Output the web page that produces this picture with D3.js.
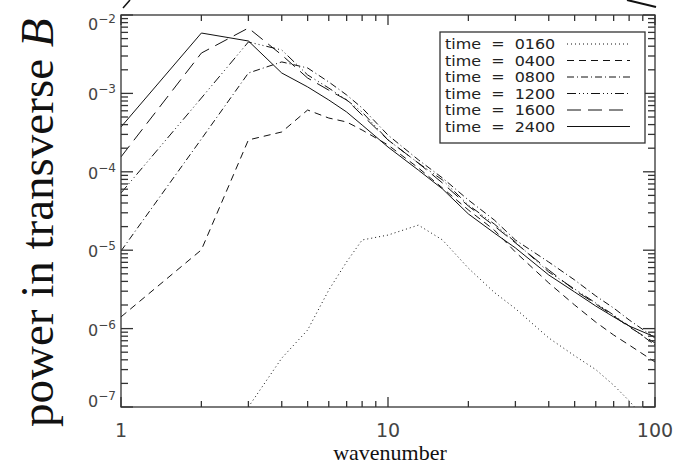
<!DOCTYPE html>
<html lang="en">
<head>
    <meta charset="utf-8" />
    <title>power spectrum</title>
    <script src="https://d3js.org/d3.v7.min.js"></script>
    <style>
        body { margin: 0; background: #fff; }
        svg { display: block; }
    </style>
</head>
<body>
    <svg></svg>
    <script>
        let width = 683, height = 465;

        const waveK = [1, 2, 3, 4, 5, 6, 7, 8, 10, 13, 16, 20, 25, 30, 40, 50, 60, 70, 80, 100];
        const p0160 = [null, null, 1.0e-7, 4.2e-7, 9.6e-7, 3.1e-6, 7.1e-6, 1.35e-5, 1.56e-5, 2.09e-5, 1.35e-5, 5.9e-6, 2.9e-6, 1.8e-6, 7.6e-7, 4.5e-7, 3.0e-7, 1.9e-7, 1.2e-7, 5.0e-8];
        const p0400 = [1.41e-6, 1.01e-5, 2.55e-4, 3.22e-4, 6.14e-4, 4.85e-4, 4.32e-4, 3.41e-4, 2.20e-4, 1.12e-4, 6.21e-5, 3.26e-5, 1.81e-5, 9.48e-6, 3.82e-6, 2.00e-6, 1.21e-6, 8.28e-7, 6.18e-7, 3.75e-7];
        const p0800 = [9.77e-6, 2.62e-4, 1.82e-3, 2.52e-3, 2.11e-3, 1.40e-3, 9.55e-4, 6.52e-4, 2.94e-4, 1.42e-4, 8.34e-5, 4.37e-5, 2.43e-5, 1.35e-5, 7.06e-6, 4.17e-6, 2.61e-6, 1.83e-6, 1.29e-6, 7.59e-7];
        const p1200 = [5.37e-5, 8.73e-4, 4.53e-3, 3.58e-3, 1.72e-3, 1.17e-3, 8.24e-4, 5.79e-4, 2.55e-4, 1.29e-4, 7.86e-5, 3.77e-5, 2.16e-5, 1.27e-5, 5.27e-6, 3.20e-6, 2.12e-6, 1.49e-6, 1.08e-6, 6.18e-7];
        const p1600 = [1.55e-4, 3.27e-3, 6.82e-3, 3.09e-3, 1.57e-3, 1.10e-3, 8.24e-4, 5.30e-4, 2.55e-4, 1.29e-4, 7.19e-5, 3.66e-5, 2.04e-5, 1.24e-5, 5.59e-6, 3.10e-6, 2.06e-6, 1.45e-6, 1.05e-6, 6.55e-7];
        const p2400 = [3.73e-4, 5.89e-3, 4.66e-3, 1.82e-3, 1.21e-3, 8.24e-4, 5.79e-4, 3.95e-4, 2.07e-4, 1.05e-4, 6.04e-5, 2.90e-5, 1.66e-5, 1.07e-5, 4.83e-6, 2.93e-6, 1.94e-6, 1.41e-6, 1.08e-6, 7.81e-7];

        const timeLabels = ["0160", "0400", "0800", "1200", "1600", "2400"];
        const dashes = ["1,3", "7,5", "7,3,1,3", "9,3,1,3,1,3,1,3", "14,7", null];
        const xTicks = [1, 10, 100];
        const yExps = [-2, -3, -4, -5, -6, -7];

        const series = [p0160, p0400, p0800, p1200, p1600, p2400];

        let svg = d3.select("svg")
            .attr("width", width)
            .attr("height", height)
            .attr("viewBox", "0 0 " + width + " " + height);

        let x = d3.scaleLog().domain([1, 100]).range([121, 655]);
        let y = d3.scaleLog().domain([1e-7, 1e-2]).range([407, 15]);

        svg.append("clipPath").attr("id", "plotclip")
            .append("rect")
            .attr("x", x(1)).attr("y", y(1e-2))
            .attr("width", x(100) - x(1)).attr("height", y(1e-7) - y(1e-2));

        // data curves
        let line = d3.line()
            .defined(d => d[1] != null)
            .x(d => x(d[0]))
            .y(d => y(d[1]));

        let curves = svg.append("g").attr("clip-path", "url(#plotclip)");
        series.forEach((vals, i) => {
            curves.append("path")
                .datum(waveK.map((k, j) => [k, vals[j]]))
                .attr("d", line)
                .attr("fill", "none")
                .attr("stroke", "#111")
                .attr("stroke-width", 1)
                .attr("stroke-dasharray", dashes[i]);
        });

        // axes box + ticks on all four sides
        let axisG = svg.append("g").attr("stroke", "#333").attr("stroke-width", 1.3);
        axisG.append("rect")
            .attr("x", x(1)).attr("y", y(1e-2))
            .attr("width", x(100) - x(1)).attr("height", y(1e-7) - y(1e-2))
            .attr("fill", "none");

        let xMinor = [];
        [1, 10].forEach(d => { for (let m = 2; m <= 9; m++) xMinor.push(d * m); });
        let yMinor = [];
        [1e-7, 1e-6, 1e-5, 1e-4, 1e-3].forEach(d => { for (let m = 2; m <= 9; m++) yMinor.push(d * m); });

        xTicks.concat(xMinor).forEach(k => {
            let len = xTicks.includes(k) ? 10 : 6;
            axisG.append("line").attr("x1", x(k)).attr("x2", x(k))
                .attr("y1", y(1e-7)).attr("y2", y(1e-7) - len);
            axisG.append("line").attr("x1", x(k)).attr("x2", x(k))
                .attr("y1", y(1e-2)).attr("y2", y(1e-2) + len);
        });
        yExps.map(e => Math.pow(10, e)).concat(yMinor).forEach(v => {
            let major = yExps.some(e => Math.abs(Math.log10(v) - e) < 1e-6);
            let len = major ? 12 : 7;
            axisG.append("line").attr("x1", x(1)).attr("x2", x(1) + len)
                .attr("y1", y(v)).attr("y2", y(v));
            axisG.append("line").attr("x1", x(100)).attr("x2", x(100) - len)
                .attr("y1", y(v)).attr("y2", y(v));
        });

        // tick labels
        svg.append("g").selectAll("text")
            .data(xTicks)
            .enter()
            .append("text")
            .attr("x", d => x(d))
            .attr("y", 437)
            .attr("text-anchor", "middle")
            .attr("font-family", "DejaVu Sans")
            .attr("font-size", 19)
            .attr("fill", "#444")
            .text(d => d);

        yExps.forEach(e => {
            let ty = Math.min(Math.max(y(Math.pow(10, e)) + 7, 30), 407);
            let t = svg.append("text")
                .attr("x", 116)
                .attr("y", ty)
                .attr("text-anchor", "end")
                .attr("font-family", "DejaVu Sans")
                .attr("fill", "#444");
            t.append("tspan").attr("font-size", 16).text("0");
            t.append("tspan").attr("font-size", 12).attr("dy", -7).text("\u2212" + (-e));
        });

        // axis titles
        svg.append("text")
            .attr("x", 390)
            .attr("y", 460)
            .attr("text-anchor", "middle")
            .attr("font-family", "Liberation Serif")
            .attr("font-size", 22)
            .attr("fill", "#111")
            .text("wavenumber");

        let ylab = svg.append("text")
            .attr("transform", "translate(53,427) rotate(-90)")
            .attr("font-family", "Liberation Serif")
            .attr("font-size", 47)
            .attr("fill", "#111");
        ylab.append("tspan").text("power in transverse ");
        ylab.append("tspan").attr("font-style", "italic").text("B");

        // legend
        let legend = svg.append("g");
        legend.append("rect")
            .attr("x", 440).attr("y", 32)
            .attr("width", 205).attr("height", 111)
            .attr("fill", "#fff")
            .attr("stroke", "#333")
            .attr("stroke-width", 1.3);
        timeLabels.forEach((lab, i) => {
            let by = 49 + i * 16.5;
            // rows are tight in the original, so the font is squeezed vertically
            legend.append("text")
                .attr("transform", "translate(445," + by + ") scale(1.14,1)")
                .attr("xml:space", "preserve")
                .style("white-space", "pre")
                .attr("font-family", "DejaVu Sans")
                .attr("font-size", 14)
                .attr("fill", "#222")
                .text("time  =  " + lab);
            legend.append("line")
                .attr("x1", 567).attr("x2", 630)
                .attr("y1", by - 5).attr("y2", by - 5)
                .attr("stroke", "#111")
                .attr("stroke-width", 1)
                .attr("stroke-dasharray", dashes[i]);
        });

        // stray strokes from the neighbouring panel at the top edge
        svg.append("line").attr("x1", 123).attr("y1", 8).attr("x2", 130).attr("y2", 0)
            .attr("stroke", "#111").attr("stroke-width", 1.5);
        svg.append("line").attr("x1", 627).attr("y1", 0).attr("x2", 656).attr("y2", 7)
            .attr("stroke", "#111").attr("stroke-width", 2);
    </script>
</body>
</html>
